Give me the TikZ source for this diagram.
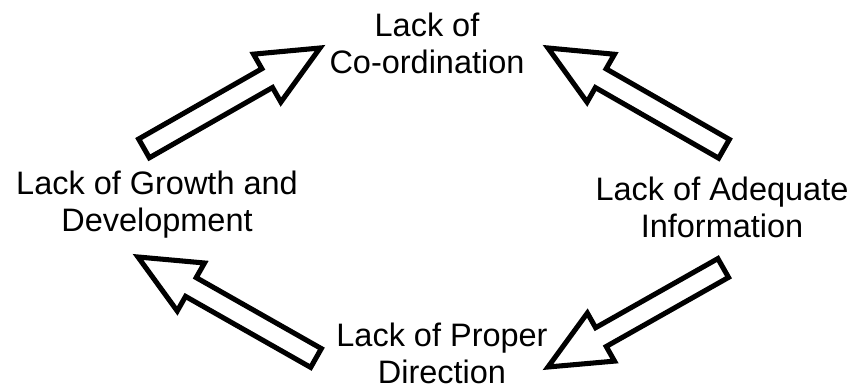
\documentclass[tikz,border=0pt]{standalone}
\usepackage{fontspec}
\setmainfont{Liberation Sans}
\usetikzlibrary{calc}

\newcommand{\shaftw}{0.27cm}
\newcommand{\headw}{0.69cm}
\newcommand{\headlen}{1.52cm}
% hollow block arrow from #1 (tail) to #2 (tip)
\newcommand{\fatarrow}[2]{%
  \coordinate (fb) at ($(#2)!\headlen!(#1)$);
  \draw [fatarrow] ($(#1)!\shaftw!90:(#2)$) -- ($(fb)!\shaftw!90:(#2)$)
    -- ($(fb)!\headw!90:(#2)$) -- (#2) -- ($(fb)!\headw!-90:(#2)$)
    -- ($(fb)!\shaftw!-90:(#2)$) -- ($(#1)!\shaftw!-90:(#2)$) -- cycle;
}

\begin{document}
\begin{tikzpicture}[every node/.style={align=center,inner sep=0pt,font=\fontsize{23.1}{26.3}\selectfont},
    fatarrow/.style={draw=black,line width=3.6pt,fill=white,line join=miter}]
    \useasboundingbox (0,0) rectangle (21.325,9.7);
    \node (c) at (10.675,8.61) {Lack of\\Co-ordination};
    \node (g) at (3.925,4.575) {Lack of Growth and\\Development};
    \node (i) at (18.05,4.51) {Lack of Adequate\\Information};
    \node (d) at (11.05,0.87) {Lack of Proper\\Direction};
    \coordinate (g-out) at (3.6,5.99);
    \coordinate (c-in) at (8.0,8.5);
    \coordinate (i-up) at (18.1,5.98);
    \coordinate (c-in') at (13.7,8.5);
    \coordinate (i-down) at (18.08,3.0);
    \coordinate (d-in) at (13.7,0.525);
    \coordinate (d-out) at (7.9,0.75);
    \coordinate (g-in) at (3.45,3.275);
    \fatarrow{g-out}{c-in}
    \fatarrow{i-up}{c-in'}
    \fatarrow{i-down}{d-in}
    \fatarrow{d-out}{g-in}
  \end{tikzpicture}
\end{document}
